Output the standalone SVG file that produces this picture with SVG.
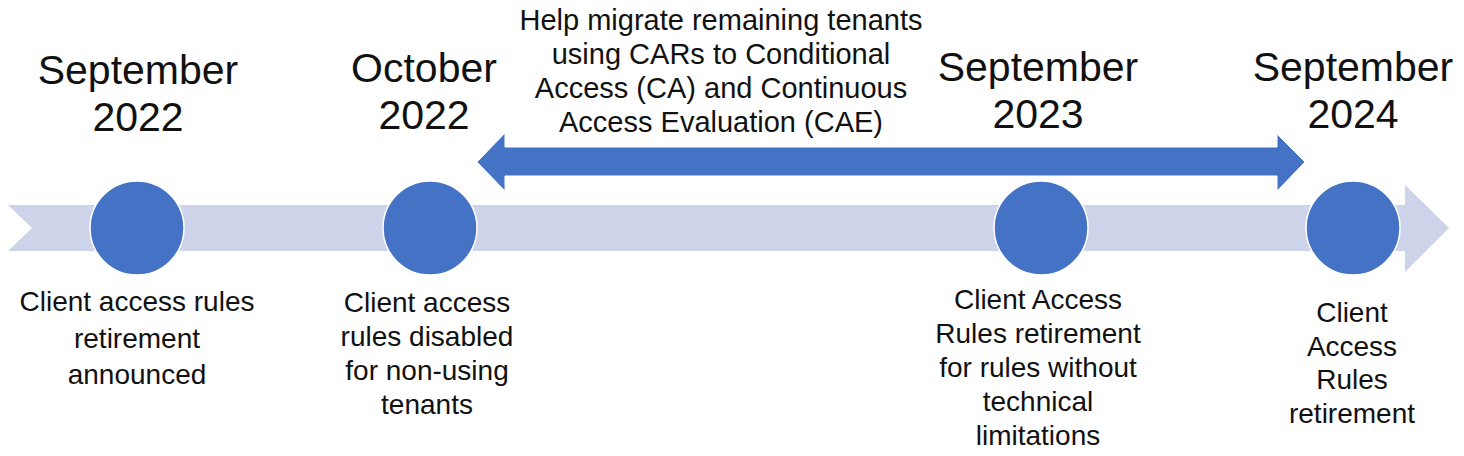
<svg xmlns="http://www.w3.org/2000/svg" width="1464" height="456" viewBox="0 0 1464 456">
<style>
text{font-family:"Liberation Sans",Arial,sans-serif;fill:#111;text-anchor:middle}
.h{font-size:41px}
.b{font-size:28px}
.m{font-size:29px}
.dot{fill:#4472C4;stroke:#ffffff;stroke-width:1.5}
</style>
<rect width="1464" height="456" fill="#ffffff"/>
<g id="timeline">
<polygon points="8,205 1405,205 1405,185 1449,228 1405,272 1405,251 8,251 32,228" fill="#CDD4E9"/>
</g>
<g id="connectors">
<polygon points="477,162 505,133 505,147 1277,147 1277,134 1305,162 1277,191 1277,176 505,176 505,191" fill="#4472C4" stroke="#ffffff" stroke-width="1"/>
<g id="arrow-label">
<text class="m" x="721" y="30">Help migrate remaining tenants</text>
<text class="m" x="721" y="64">using CARs to Conditional</text>
<text class="m" x="721" y="98">Access (CA) and Continuous</text>
<text class="m" x="721" y="132">Access Evaluation (CAE)</text>
</g>
</g>
<g id="node-sep2022">
<text class="h" x="138" y="84">September</text>
<text class="h" x="138" y="131">2022</text>
<circle class="dot" cx="137" cy="228" r="47"/>
<text class="b" x="137" y="311">Client access rules</text>
<text class="b" x="137" y="348">retirement</text>
<text class="b" x="137" y="384">announced</text>
</g>
<g id="node-oct2022">
<text class="h" x="424" y="82">October</text>
<text class="h" x="424" y="129">2022</text>
<circle class="dot" cx="430" cy="228" r="47"/>
<text class="b" x="427" y="312">Client access</text>
<text class="b" x="427" y="346">rules disabled</text>
<text class="b" x="427" y="380">for non-using</text>
<text class="b" x="427" y="414">tenants</text>
</g>
<g id="node-sep2023">
<text class="h" x="1038" y="81">September</text>
<text class="h" x="1038" y="128">2023</text>
<circle class="dot" cx="1041" cy="228" r="47"/>
<text class="b" x="1038" y="309">Client Access</text>
<text class="b" x="1038" y="343">Rules retirement</text>
<text class="b" x="1038" y="377">for rules without</text>
<text class="b" x="1038" y="411">technical</text>
<text class="b" x="1038" y="445">limitations</text>
</g>
<g id="node-sep2024">
<text class="h" x="1353" y="81">September</text>
<text class="h" x="1353" y="128">2024</text>
<circle class="dot" cx="1353" cy="228" r="47"/>
<text class="b" x="1352" y="322">Client</text>
<text class="b" x="1352" y="356">Access</text>
<text class="b" x="1352" y="389">Rules</text>
<text class="b" x="1352" y="423">retirement</text>
</g>
</svg>
